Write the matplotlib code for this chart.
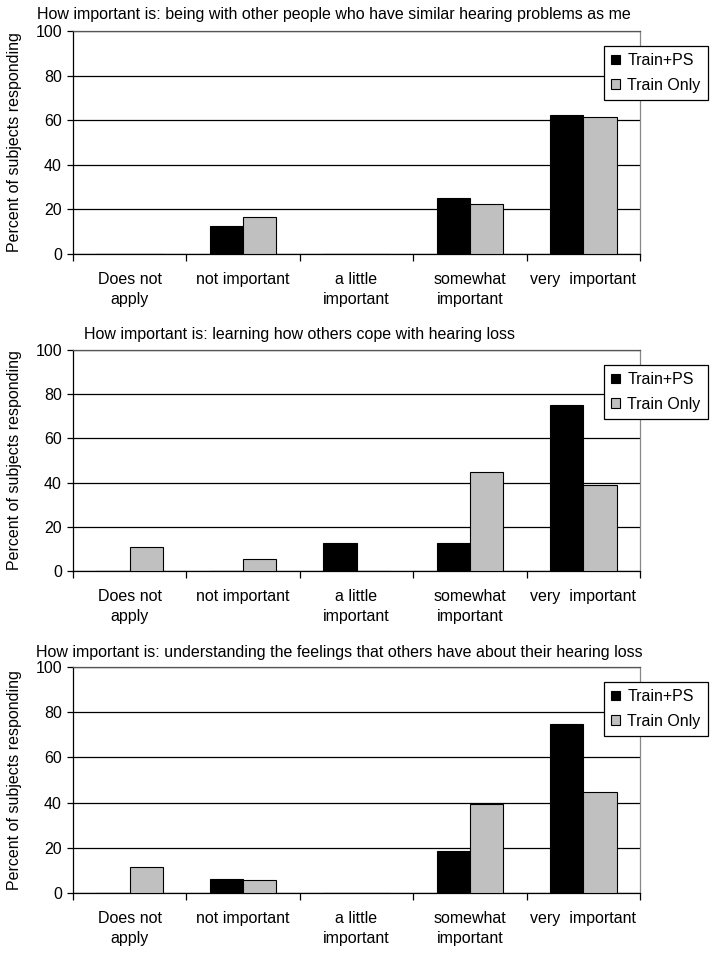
import matplotlib
matplotlib.use("Agg")
import matplotlib.pyplot as plt
from matplotlib.patches import Patch
import numpy as np

plt.rcParams['font.family'] = ['Liberation Sans', 'DejaVu Sans']

categories = ["Does not\napply", "not important", "a little\nimportant",
              "somewhat\nimportant", "very  important"]
series_names = ["Train+PS", "Train Only"]

titles = [
    "How important is: being with other people who have similar hearing problems as me",
    "How important is: learning how others cope with hearing loss",
    "How important is: understanding the feelings that others have about their hearing loss",
]

p1_train_ps = [0, 12.5, 0, 25.0, 62.5]
p1_train_only = [0, 16.7, 0, 22.4, 61.4]

p2_train_ps = [0, 0, 12.5, 12.5, 75.0]
p2_train_only = [10.8, 5.6, 0, 44.6, 38.9]

p3_train_ps = [0, 6.25, 0, 18.75, 75.0]
p3_train_only = [11.5, 5.9, 0, 39.3, 44.6]

panels = [(p1_train_ps, p1_train_only),
          (p2_train_ps, p2_train_only),
          (p3_train_ps, p3_train_only)]

W, H = 714, 958
fig = plt.figure(figsize=(W / 100, H / 100), dpi=100)

# pixel layout: (top_px, bottom_px) of plot area
ax_rows = [(31, 254), (350, 571), (667, 893)]
left_px, right_px = 73, 640
title_pos = [(37, 15), (84, 335), (36, 652)]
legend_top = [46, 365, 682]

FS = 11.5
gray = "#c0c0c0"
bw = 0.293
x = np.arange(len(categories))

for i, ((top, bot), (ps, only)) in enumerate(zip(ax_rows, panels)):
    ax = fig.add_axes([left_px / W, 1 - bot / H, (right_px - left_px) / W, (bot - top) / H])
    ax.set_axisbelow(True)
    ax.bar(x - bw / 2, ps, width=bw, color="black", edgecolor="black", linewidth=0.8, zorder=3)
    ax.bar(x + bw / 2, only, width=bw, color=gray, edgecolor="black", linewidth=0.8, zorder=3)
    ax.set_xlim(-0.5, len(categories) - 0.5)
    ax.set_ylim(0, 100)
    ax.set_yticks([0, 20, 40, 60, 80, 100])
    ax.yaxis.grid(True, color="black", linewidth=0.9)
    ax.set_xticks(np.arange(-0.5, len(categories), 1.0))
    ax.set_xticklabels([])
    ax.set_xticks(x, minor=True)
    ax.set_xticklabels(categories, minor=True, fontsize=FS, linespacing=1.45)
    ax.tick_params(axis="x", which="major", length=5, width=0.9, direction="out")
    ax.tick_params(axis="x", which="minor", length=0, pad=13)
    ax.tick_params(axis="y", length=4, width=0.9, pad=4, labelsize=FS)
    for s in ["left", "bottom"]:
        ax.spines[s].set_color("black")
        ax.spines[s].set_linewidth(0.9)
    ax.spines["top"].set_color("#555555")
    ax.spines["right"].set_color("#888888")
    ax.spines["top"].set_linewidth(0.9)
    ax.spines["right"].set_linewidth(0.9)

    fig.text(title_pos[i][0] / W, 1 - title_pos[i][1] / H, titles[i],
             fontsize=FS, ha="left", va="center")
    fig.text(15 / W, 1 - ((top + bot) / 2) / H, "Percent of subjects responding",
             fontsize=FS, rotation=90, ha="center", va="center")

    handles = [Patch(facecolor="black", edgecolor="black", linewidth=0.8),
               Patch(facecolor=gray, edgecolor="black", linewidth=0.8)]
    leg = ax.legend(handles, series_names, loc="upper left",
                    bbox_to_anchor=(604 / W, 1 - legend_top[i] / H),
                    bbox_transform=fig.transFigure, fontsize=FS,
                    handlelength=0.55, handleheight=0.55, handletextpad=0.45,
                    labelspacing=0.6, borderpad=0.45, borderaxespad=0,
                    fancybox=False, framealpha=1, edgecolor="black")
    leg.get_frame().set_linewidth(0.9)

fig.savefig("out.png", dpi=100)
